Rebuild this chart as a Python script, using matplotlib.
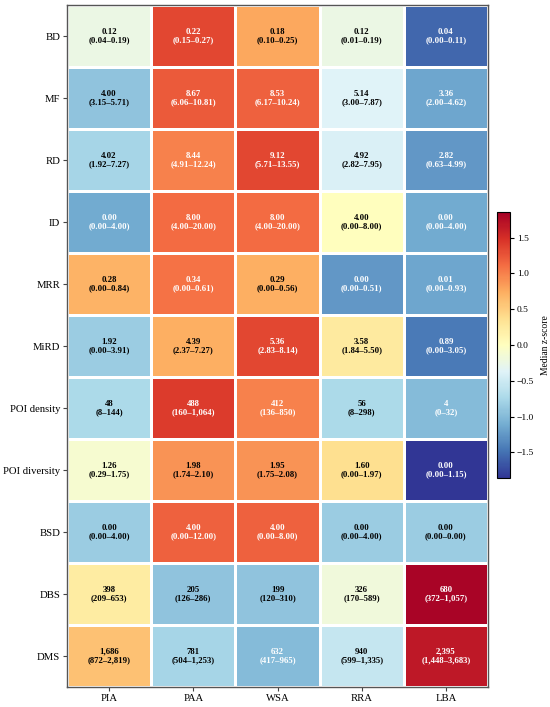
import numpy as np
import matplotlib
matplotlib.use("Agg")
import matplotlib.pyplot as plt

plt.rcParams['font.family'] = ['Liberation Serif', 'DejaVu Serif']

columns = ["PIA", "PAA", "WSA", "RRA", "LBA"]
rows = ["BD", "MF", "RD", "ID", "MRR", "MiRD", "POI density", "POI diversity", "BSD", "DBS", "DMS"]

# median z-scores (colour)
z_BD = [-0.24, 1.34, 0.78, -0.24, -1.56]
z_MF = [-0.93, 1.23, 1.19, -0.37, -1.15]
z_RD = [-0.78, 1.00, 1.34, -0.41, -1.26]
z_ID = [-1.12, 1.12, 1.12, 0.00, -1.12]
z_MRR = [0.70, 1.08, 0.74, -1.26, -1.15]
z_MiRD = [-0.85, 0.74, 1.34, 0.26, -1.45]
z_POIden = [-0.74, 1.41, 1.00, -0.74, -1.00]
z_POIdiv = [-0.11, 0.89, 0.89, 0.37, -1.85]
z_BSD = [-0.85, 1.19, 1.19, -0.85, -0.85]
z_DBS = [0.22, -0.93, -0.93, -0.18, 1.82]
z_DMS = [0.60, -0.78, -1.00, -0.56, 1.67]

# medians (text)
m_BD = ["0.12", "0.22", "0.18", "0.12", "0.04"]
m_MF = ["4.00", "8.67", "8.53", "5.14", "3.36"]
m_RD = ["4.02", "8.44", "9.12", "4.92", "2.82"]
m_ID = ["0.00", "8.00", "8.00", "4.00", "0.00"]
m_MRR = ["0.28", "0.34", "0.29", "0.00", "0.01"]
m_MiRD = ["1.92", "4.39", "5.36", "3.58", "0.89"]
m_POIden = ["48", "488", "412", "56", "4"]
m_POIdiv = ["1.26", "1.98", "1.95", "1.60", "0.00"]
m_BSD = ["0.00", "4.00", "4.00", "0.00", "0.00"]
m_DBS = ["398", "205", "199", "326", "680"]
m_DMS = ["1,686", "781", "632", "940", "2,395"]

# interquartile ranges (text)
r_BD = ["0.04–0.19", "0.15–0.27", "0.10–0.25", "0.01–0.19", "0.00–0.11"]
r_MF = ["3.15–5.71", "6.06–10.81", "6.17–10.24", "3.00–7.87", "2.00–4.62"]
r_RD = ["1.92–7.27", "4.91–12.24", "5.71–13.55", "2.82–7.95", "0.63–4.99"]
r_ID = ["0.00–4.00", "4.00–20.00", "4.00–20.00", "0.00–8.00", "0.00–4.00"]
r_MRR = ["0.00–0.84", "0.00–0.61", "0.00–0.56", "0.00–0.51", "0.00–0.93"]
r_MiRD = ["0.00–3.91", "2.37–7.27", "2.83–8.14", "1.84–5.50", "0.00–3.05"]
r_POIden = ["8–144", "160–1,064", "136–850", "8–298", "0–32"]
r_POIdiv = ["0.29–1.75", "1.74–2.10", "1.75–2.08", "0.00–1.97", "0.00–1.15"]
r_BSD = ["0.00–4.00", "0.00–12.00", "0.00–8.00", "0.00–4.00", "0.00–0.00"]
r_DBS = ["209–653", "126–286", "120–310", "170–589", "372–1,057"]
r_DMS = ["872–2,819", "504–1,253", "417–965", "599–1,335", "1,448–3,683"]

Z = np.array([z_BD, z_MF, z_RD, z_ID, z_MRR, z_MiRD, z_POIden, z_POIdiv, z_BSD, z_DBS, z_DMS])
M = [m_BD, m_MF, m_RD, m_ID, m_MRR, m_MiRD, m_POIden, m_POIdiv, m_BSD, m_DBS, m_DMS]
R = [r_BD, r_MF, r_RD, r_ID, r_MRR, r_MiRD, r_POIden, r_POIdiv, r_BSD, r_DBS, r_DMS]

vlim = 1.86
fig = plt.figure(figsize=(5.5, 7.07), dpi=100)
ax = fig.add_axes([67/550, 20/707, 421/550, 682/707])
cax = fig.add_axes([497/550, 229/707, 13/550, 266/707])

mesh = ax.pcolormesh(Z, cmap="RdYlBu_r", vmin=-vlim, vmax=vlim,
                     edgecolors="white", linewidth=1.0)
ax.set_xlim(0, len(columns))
ax.set_ylim(len(rows), 0)
ax.set_xticks(np.arange(len(columns)) + 0.5)
ax.set_xticklabels(columns, fontsize=7.7)
ax.set_yticks(np.arange(len(rows)) + 0.5)
ax.set_yticklabels(rows, fontsize=7.7)
ax.tick_params(length=3, width=0.8, pad=2, color="#444444")
for s in ax.spines.values():
    s.set_color("#555555")
    s.set_linewidth(1.0)

for i in range(len(rows)):
    for j in range(len(columns)):
        c = "white" if abs(Z[i, j]) > 0.95 else "black"
        ax.text(j + 0.5, i + 0.5, f"{M[i][j]}\n({R[i][j]})", ha="center", va="center",
                fontsize=6.3, fontweight="bold", color=c, linespacing=1.1)

cb = fig.colorbar(mesh, cax=cax)
cb.set_ticks([-1.5, -1.0, -0.5, 0.0, 0.5, 1.0, 1.5])
cb.ax.tick_params(labelsize=6.8, length=3, width=0.8, pad=2)
cb.set_label("Median z-score", fontsize=6.9, labelpad=5)
cb.outline.set_linewidth(0.8)

fig.savefig("out.png", dpi=100)
